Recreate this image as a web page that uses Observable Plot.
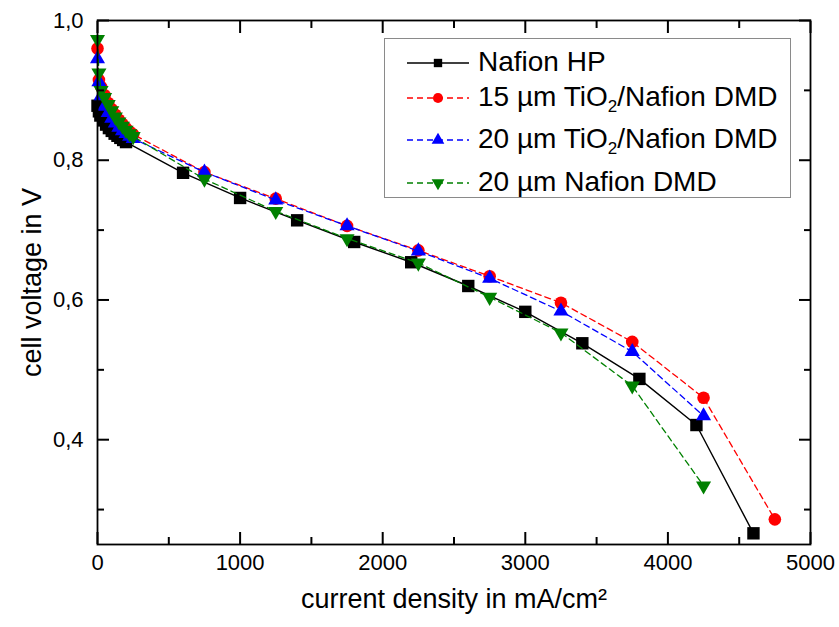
<!DOCTYPE html>
<html>
<head>
<meta charset="utf-8">
<script src="https://cdn.jsdelivr.net/npm/d3@7"></script>
<script src="https://cdn.jsdelivr.net/npm/@observablehq/plot@0.6"></script>
<style>
  html, body { margin: 0; padding: 0; background: #fff; }
  #wrap { position: relative; width: 839px; height: 627px; font-family: "Liberation Sans", Arial, sans-serif; }
  #legend { position: absolute; left: 384px; top: 38px; width: 407px; height: 160px; border: 1px solid #8a8a8a; background: #fff; box-sizing: border-box; }
  .row { position: absolute; left: 0; height: 0; }
  .row svg { position: absolute; left: 22px; top: -10px; }
  .row span { position: absolute; left: 93px; top: 0; transform: translateY(-52%); white-space: nowrap; font-size: 28px; color: #000; line-height: 1; }
  .row sub { font-size: 17px; vertical-align: -6px; line-height: 0; }
</style>
</head>
<body>
<div id="wrap"></div>
<script>
// ---- data ----
const hpX   = [0,10,20,40,60,80,100,120,140,160,180,200,600,1000,1400,1800,2200,2600,3000,3400,3800,4200,4600];
const hpY   = [0.878,0.870,0.864,0.857,0.851,0.846,0.842,0.838,0.835,0.832,0.829,0.826,0.782,0.746,0.714,0.683,0.654,0.620,0.583,0.538,0.487,0.421,0.266];

const t15X  = [0,10,25,50,75,100,125,150,175,200,225,250,750,1250,1750,2250,2750,3250,3750,4250,4750];
const t15Y  = [0.960,0.915,0.905,0.893,0.882,0.873,0.865,0.858,0.852,0.846,0.841,0.837,0.783,0.745,0.706,0.671,0.634,0.596,0.540,0.460,0.286];

const t20X  = [0,10,25,50,75,100,125,150,175,200,225,250,750,1250,1750,2250,2750,3250,3750,4250];
const t20Y  = [0.945,0.912,0.892,0.877,0.868,0.860,0.853,0.847,0.842,0.838,0.834,0.831,0.783,0.743,0.706,0.670,0.631,0.584,0.526,0.434];

const n20X  = [0,10,25,50,75,100,125,150,175,200,225,250,750,1250,1750,2250,2750,3250,3750,4250];
const n20Y  = [0.973,0.925,0.900,0.890,0.880,0.871,0.862,0.855,0.849,0.843,0.838,0.834,0.773,0.727,0.688,0.653,0.604,0.553,0.477,0.334];

const seriesNames = ["Nafion HP", "15 µm TiO2/Nafion DMD", "20 µm TiO2/Nafion DMD", "20 µm Nafion DMD"];
const xDomain = [0, 5000];
const yDomain = [0.25, 1.0];
const xMajor = [0,1000,2000,3000,4000,5000];
const xMinor = [500,1500,2500,3500,4500];
const yMajor = [0.4,0.6,0.8,1.0];
const yMinor = [0.3,0.5,0.7,0.9];
const xTitle = "current density in mA/cm²";
const yTitle = "cell voltage in V";

// ---- build ----
const zip = (xs, ys) => xs.map((x, i) => ({x, y: ys[i]}));
const sqrt3 = Math.sqrt(3);
const triangleDown = {
  draw(context, size) {
    const y = -Math.sqrt(size / (sqrt3 * 3));
    context.moveTo(0, -y * 2);
    context.lineTo(-sqrt3 * y, y);
    context.lineTo(sqrt3 * y, y);
    context.closePath();
  }
};

const series = [
  {data: zip(hpX, hpY),  color: "#000000", dash: null,  symbol: "square",   r: 7.0},
  {data: zip(t15X, t15Y), color: "#ff0000", dash: "6,4", symbol: "circle",   r: 6.3},
  {data: zip(t20X, t20Y), color: "#0000ff", dash: "6,4", symbol: "triangle", r: 5.6},
  {data: zip(n20X, n20Y), color: "#008000", dash: "6,4", symbol: triangleDown, r: 5.6}
];

const W = 839, H = 627, mL = 97, mR = 29, mT = 20, mB = 83;
const MAJ = 12, MIN = 7, TW = 2;
const noText = () => "";

const marks = [];
for (const s of series) {
  marks.push(Plot.line(s.data, {x: "x", y: "y", stroke: s.color, strokeWidth: s.dash ? 1.3 : 1.4, strokeDasharray: s.dash}));
  marks.push(Plot.dot(s.data, {x: "x", y: "y", symbol: s.symbol, r: s.r, fill: s.color, stroke: "none"}));
}
// inward ticks on all four sides, drawn with axis marks (negative tick size points inward)
for (const anchor of ["bottom", "top"]) {
  marks.push(Plot.axisX({anchor, ticks: xMajor, tickSize: -MAJ, tickFormat: noText, label: null, stroke: "black", strokeWidth: TW}));
  marks.push(Plot.axisX({anchor, ticks: xMinor, tickSize: -MIN, tickFormat: noText, label: null, stroke: "black", strokeWidth: TW}));
}
for (const anchor of ["left", "right"]) {
  marks.push(Plot.axisY({anchor, ticks: yMajor, tickSize: -MAJ, tickFormat: noText, label: null, stroke: "black", strokeWidth: TW}));
  marks.push(Plot.axisY({anchor, ticks: yMinor, tickSize: -MIN, tickFormat: noText, label: null, stroke: "black", strokeWidth: TW}));
}
marks.push(
  Plot.frame({stroke: "black", strokeWidth: 1.8}),
  Plot.axisX({anchor: "bottom", ticks: xMajor, tickSize: 0, tickPadding: 10, fontSize: 22, label: null, tickFormat: d => String(d)}),
  Plot.axisY({anchor: "left", ticks: yMajor, tickSize: 0, tickPadding: 14, fontSize: 22, label: null, tickFormat: d => d.toFixed(1).replace(".", ",")}),
  Plot.text([xTitle], {frameAnchor: "bottom", dy: 63, fontSize: 27, fill: "black", text: d => d, textAnchor: "middle"}),
  Plot.text([yTitle], {frameAnchor: "left", dx: -65, rotate: -90, fontSize: 27, fill: "black", text: d => d, textAnchor: "middle"})
);

const chart = Plot.plot({
  width: W, height: H,
  marginLeft: mL, marginRight: mR, marginTop: mT, marginBottom: mB,
  x: {domain: xDomain},
  y: {domain: yDomain},
  style: {fontFamily: "'Liberation Sans', Arial, sans-serif", fontSize: "22px", color: "black", background: "white"},
  marks
});
const wrap = document.getElementById("wrap");
wrap.appendChild(chart);

// ---- legend ----
const legend = document.createElement("div");
legend.id = "legend";
const rowTops = [24, 59, 101, 144];
series.forEach((s, i) => {
  const row = document.createElement("div");
  row.className = "row";
  row.style.top = rowTops[i] + "px";
  const svg = d3.create("svg").attr("width", 62).attr("height", 20);
  svg.append("line").attr("x1", 0).attr("x2", 62).attr("y1", 10).attr("y2", 10)
    .attr("stroke", s.color).attr("stroke-width", 1.3).attr("stroke-dasharray", s.dash);
  const sym = typeof s.symbol === "string"
    ? ({square: d3.symbolSquare, circle: d3.symbolCircle, triangle: d3.symbolTriangle})[s.symbol]
    : s.symbol;
  svg.append("path").attr("transform", "translate(31,10)")
    .attr("d", d3.symbol(sym, s.symbol === "circle" ? 80 : 70)()).attr("fill", s.color);
  row.appendChild(svg.node());
  const span = document.createElement("span");
  span.innerHTML = seriesNames[i].replace("TiO2", "TiO<sub>2</sub>");
  row.appendChild(span);
  legend.appendChild(row);
});
wrap.appendChild(legend);
</script>
</body>
</html>
